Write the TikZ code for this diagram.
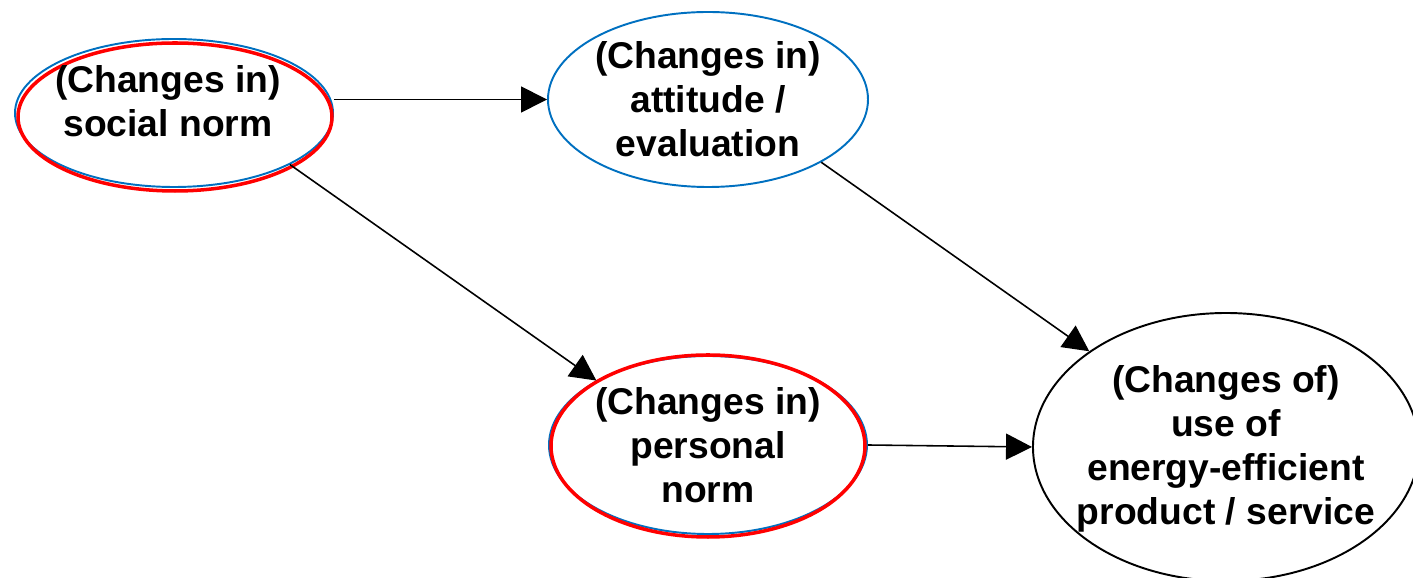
\documentclass[tikz,border=0pt]{standalone}
\usepackage{fontspec}
\setmainfont{Liberation Sans}
\usepackage{tikz}
\usetikzlibrary{arrows.meta,positioning,shapes}
\definecolor{normblue}{RGB}{0,112,192}

\begin{document}
\begin{tikzpicture}[node distance=5.34cm, >={Triangle[length=7.4pt, width=7.4pt]}, line width=0.45pt,
    bubble/.style={draw, ellipse, inner sep=0pt, line width=0.55pt},
    bubbletext/.style={align=center, inner sep=0pt, font=\fontsize{10.6}{12.5}\selectfont\bfseries},
    redline/.style={draw=red, line width=1pt}]
                \useasboundingbox (0,0) rectangle (14.13,-5.78);

                \node[bubble, draw=normblue, minimum width=3.18cm, minimum height=1.48cm](social_norm) at (1.74,-1.13) {};
                \draw[redline] ([shift={(0.01,-0.04)}]social_norm.center) ellipse [x radius=1.57cm, y radius=0.74cm];
                \node[bubbletext, xshift=-0.06cm, yshift=0.12cm](social_norm_text) at (social_norm) {(Changes in)\\social norm};

                \node[bubble, draw=normblue, right of=social_norm, yshift=0.135cm, minimum width=3.2cm, minimum height=1.75cm](attitude) {};
                \node[bubbletext](attitude_text) at (attitude) {(Changes in)\\attitude /\\evaluation};

                \node[bubble, draw=normblue, below of=attitude, node distance=3.455cm, minimum width=3.18cm, minimum height=1.78cm](personal_norm) {};
                \draw[redline] ([shift={(0,-0.01)}]personal_norm.center) ellipse [x radius=1.57cm, y radius=0.91cm];
                \node[bubbletext](personal_norm_text) at (personal_norm) {(Changes in)\\personal\\norm};

                \node[bubble, right of=personal_norm, node distance=5.18cm, yshift=-0.02cm, minimum width=3.86cm, minimum height=2.68cm](energy_use) {};
                \node[bubbletext, yshift=-0.02cm](energy_use_text) at (energy_use) {(Changes of)\\use of\\energy-efficient\\product / service};

                \path[->] (social_norm.east |- attitude.west) edge node {} (attitude.west);
                \path[->] (social_norm.-24) edge node {} (personal_norm.150.5);
                \path[->] (attitude.-29) edge node {} (energy_use.145);
                \path[->] (personal_norm.east) edge node {} (energy_use.west);
            \end{tikzpicture}
\end{document}
